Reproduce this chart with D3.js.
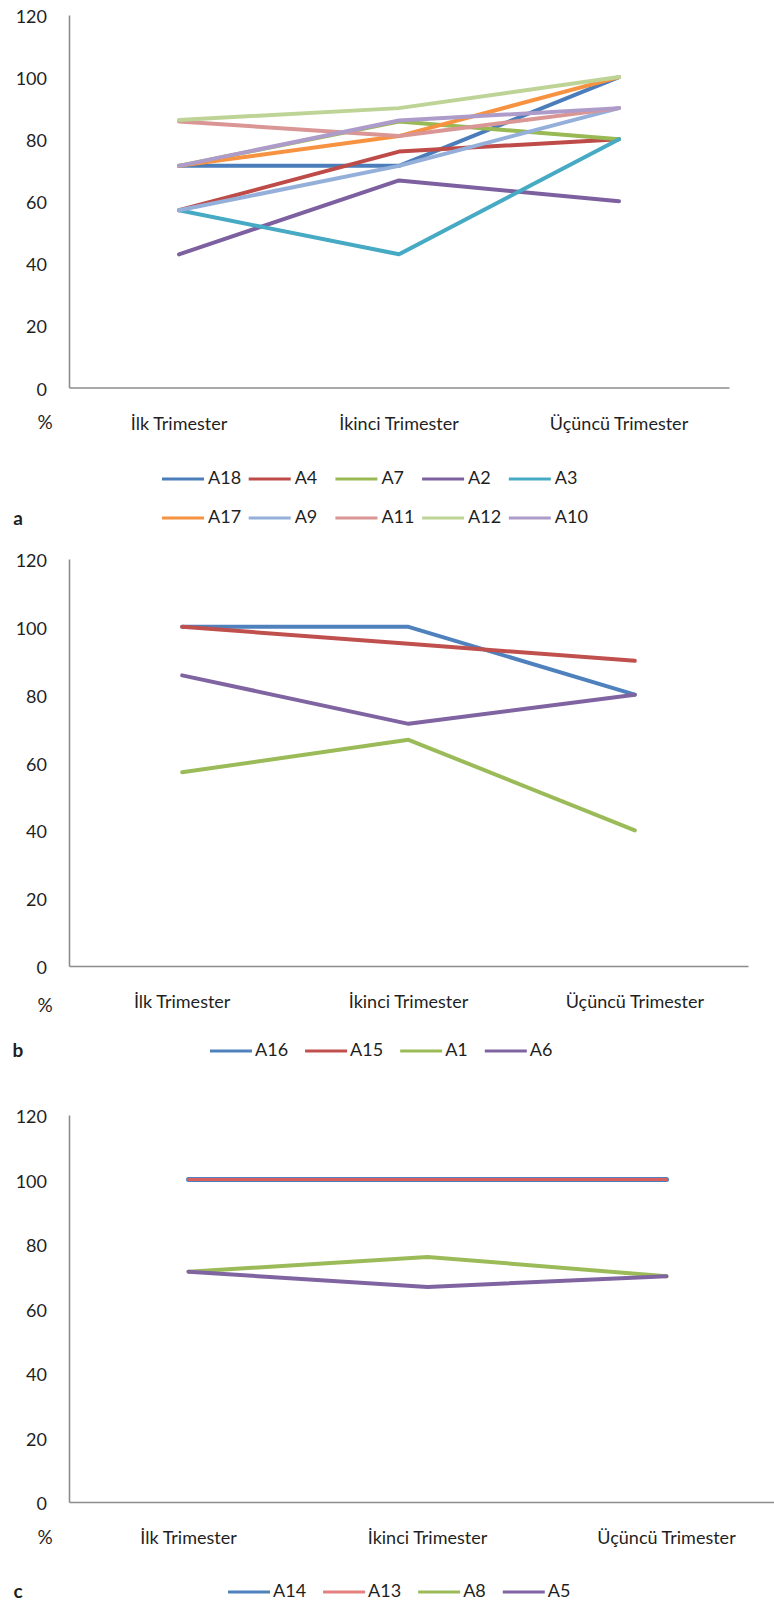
<!DOCTYPE html>
<html><head><meta charset="utf-8">
<script src="https://cdn.jsdelivr.net/npm/d3@7"></script>
<style>
html,body{margin:0;padding:0;background:#fff;}
svg{display:block;}
text{font-family:Lato,"Open Sans",sans-serif;fill:#1f1f1f;}
</style></head>
<body>
<svg id="chart" width="774" height="1605"></svg>
<script>
const categories = ["İlk Trimester", "İkinci Trimester", "Üçüncü Trimester"];
const yTicks = [0, 20, 40, 60, 80, 100, 120];

// Panel a
const seriesA = ["A18", "A4", "A7", "A2", "A3", "A17", "A9", "A11", "A12", "A10"];
const valuesA = [
  [71.4, 71.4, 100],
  [57.1, 76, 80],
  [71.4, 85.7, 80],
  [42.9, 66.7, 60],
  [57.1, 42.9, 80],
  [71.4, 81, 100],
  [57.1, 71.4, 90],
  [85.7, 81, 90],
  [86.2, 90, 100],
  [71.4, 86, 90]
];
const colorsA = ["#4A7DBA", "#BE4B48", "#98B954", "#7D60A0", "#46AAC5", "#F69240", "#94AFDA", "#DA9694", "#BDD496", "#AD9BC9"];

// Panel b
const seriesB = ["A16", "A15", "A1", "A6"];
const valuesB = [
  [100, 100, 80],
  [100, 95, 90],
  [57.1, 66.7, 40],
  [85.7, 71.4, 80]
];
const colorsB = ["#4F81BD", "#C0504D", "#9BBB59", "#8064A2"];

// Panel c
const seriesC = ["A14", "A13", "A8", "A5"];
const valuesC = [
  [100, 100, 100],
  [100, 100, 100],
  [71.4, 76, 70],
  [71.4, 66.7, 70]
];
const colorsC = ["#4F81BD", "#D9605D", "#9BBB59", "#8064A2"];
const widthsC = [5, 3, 4, 4];

const svg = d3.select("#chart");

function panel(cfg) {
  const g = svg.append("g");
  const x = d3.scaleBand().domain(categories).range([cfg.x0, cfg.x1]);
  const y = d3.scaleLinear().domain([0, 120]).range([cfg.y0, cfg.y120]);

  // y axis
  const ya = g.append("g").attr("transform", `translate(${cfg.x0},0)`)
    .call(d3.axisLeft(y).tickValues(yTicks).tickSize(0).tickPadding(22).tickSizeOuter(0));
  ya.select(".domain").attr("stroke", "#8c8c8c").attr("stroke-width", 1.6);
  ya.selectAll("text").style("font-size", "18px").attr("dy", "0.42em").attr("fill", "#1f1f1f");

  // x axis
  const xa = g.append("g").attr("transform", `translate(0,${cfg.y0})`)
    .call(d3.axisBottom(x).tickSize(0).tickPadding(cfg.xPad).tickSizeOuter(0));
  xa.select(".domain").attr("stroke", "#8c8c8c").attr("stroke-width", 1.6);
  xa.selectAll("text").style("font-size", "18px").attr("fill", "#1f1f1f").attr("dy", "0");

  g.append("text").attr("x", 45).attr("y", cfg.pctY).attr("text-anchor", "middle")
    .style("font-size", "19px").attr("dominant-baseline", "middle").text("%");

  const line = d3.line().x((d, i) => x(categories[i]) + x.bandwidth() / 2).y(d => y(d));
  cfg.values.forEach((vals, k) => {
    g.append("path").datum(vals).attr("d", line).attr("fill", "none")
      .attr("stroke", cfg.colors[k]).attr("stroke-width", cfg.widths ? cfg.widths[k] : 4)
      .attr("stroke-linejoin", "round").attr("stroke-linecap", "round");
  });

  // legend
  const lg = g.append("g");
  if (cfg.legendCols) {
    cfg.series.forEach((s, k) => {
      const row = Math.floor(k / cfg.legendCols), col = k % cfg.legendCols;
      const lx = cfg.legendX + col * cfg.legendPitch, ly = cfg.legendY + row * cfg.legendRowH;
      lg.append("line").attr("x1", lx).attr("x2", lx + 42).attr("y1", ly).attr("y2", ly)
        .attr("stroke", cfg.colors[k]).attr("stroke-width", 3);
      lg.append("text").attr("x", lx + 46).attr("y", ly).attr("dominant-baseline", "middle")
        .style("font-size", "18px").text(s);
    });
  } else {
    let lx = cfg.legendX;
    cfg.series.forEach((s, k) => {
      const ly = cfg.legendY;
      lg.append("line").attr("x1", lx).attr("x2", lx + 42).attr("y1", ly).attr("y2", ly)
        .attr("stroke", cfg.legendColors ? cfg.legendColors[k] : cfg.colors[k]).attr("stroke-width", 3);
      const t = lg.append("text").attr("x", lx + 45).attr("y", ly).attr("dominant-baseline", "middle")
        .style("font-size", "18px").text(s);
      lx += 45 + t.node().getComputedTextLength() + 17;
    });
  }
  g.append("text").attr("x", 18).attr("y", cfg.letterY).attr("text-anchor", "middle")
    .attr("dominant-baseline", "middle").style("font-size", "19px").style("font-weight", "bold")
    .text(cfg.letter);
}

panel({x0: 69, x1: 729, y0: 387.5, y120: 15, xPad: 42, pctY: 424,
  series: seriesA, values: valuesA, colors: colorsA,
  legendCols: 5, legendX: 162, legendPitch: 86.7, legendY: 479, legendRowH: 39,
  letter: "a", letterY: 520});

panel({x0: 69, x1: 748, y0: 966, y120: 559, xPad: 42, pctY: 1007,
  series: seriesB, values: valuesB, colors: colorsB,
  legendX: 210, legendY: 1051, letter: "b", letterY: 1052});

panel({x0: 69, x1: 786, y0: 1502, y120: 1115, xPad: 42, pctY: 1539,
  series: seriesC, values: valuesC, colors: colorsC, widths: widthsC,
  legendColors: ["#4F81BD", "#E4807D", "#9BBB59", "#8064A2"],
  legendX: 228, legendY: 1592, letter: "c", letterY: 1593});
</script>
</body></html>
